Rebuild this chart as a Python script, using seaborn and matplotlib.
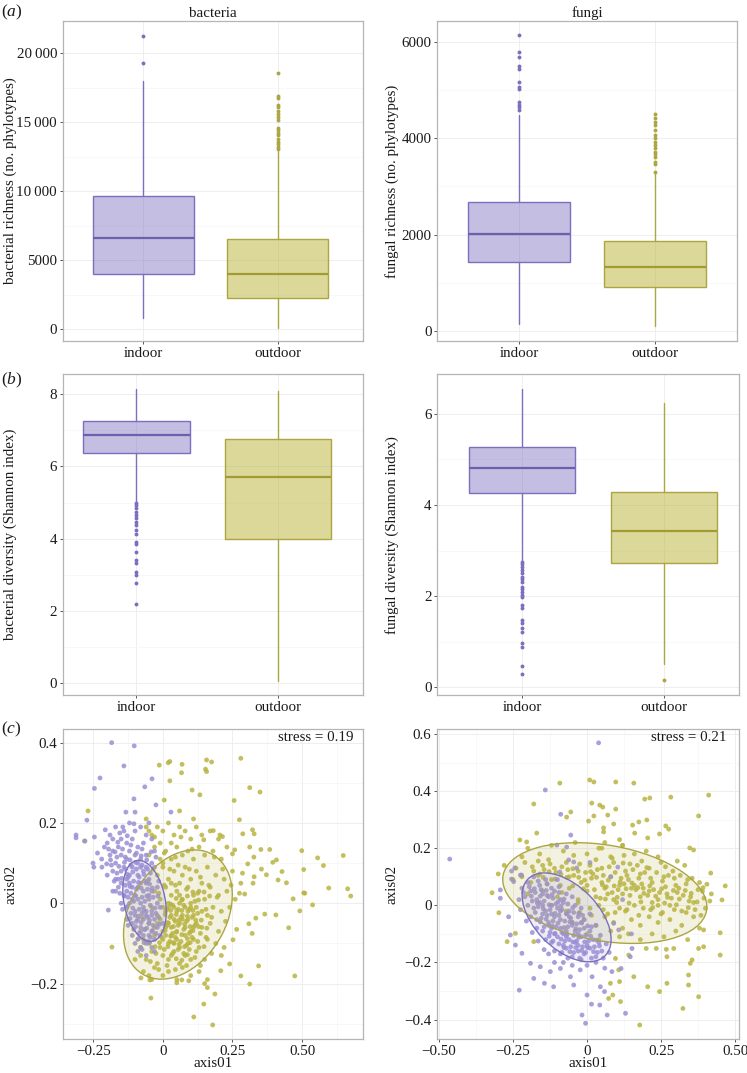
import numpy as np
import pandas as pd
import matplotlib
matplotlib.use('Agg')
import matplotlib.pyplot as plt
import seaborn as sns
from matplotlib.colors import to_rgba
from matplotlib.patches import Ellipse
from matplotlib.ticker import FixedLocator

sites = ['indoor', 'outdoor']

# box summaries: q1, median, q3, lower whisker, upper whisker
bac_rich_indoor = [3990, 6630, 9670, 820, 17990]
bac_rich_outdoor = [2230, 3970, 6500, 100, 12900]
bac_rich_indoor_fliers = [19300, 21280]
bac_rich_outdoor_fliers = [13060, 13230, 13420, 13590, 13760, 14080, 14240, 14440, 14560,
                           15160, 15410, 15600, 15820, 16130, 16250, 16780, 16900, 18550]

fun_rich_indoor = [1440, 2005, 2670, 145, 4480]
fun_rich_outdoor = [906, 1320, 1860, 104, 3270]
fun_rich_indoor_fliers = [4580, 4640, 4680, 4760, 5030, 5070, 5170, 5430, 5500, 5680, 5780, 6150]
fun_rich_outdoor_fliers = [3300, 3460, 3500, 3620, 3670, 3720, 3790, 3860, 3930, 4000, 4060,
                           4170, 4270, 4340, 4410, 4510]

bac_div_indoor = [6.37, 6.87, 7.27, 5.03, 8.14]
bac_div_outdoor = [3.99, 5.72, 6.77, 0.07, 8.10]
bac_div_indoor_fliers = [4.98, 4.93, 4.84, 4.75, 4.66, 4.57, 4.47, 4.38, 4.24, 4.13, 3.92, 3.85,
                         3.64, 3.41, 3.34, 3.09, 3.00, 2.77, 2.21]
bac_div_outdoor_fliers = []

fun_div_indoor = [4.27, 4.82, 5.28, 2.78, 6.54]
fun_div_outdoor = [2.72, 3.44, 4.28, 0.51, 6.24]
fun_div_indoor_fliers = [2.76, 2.71, 2.65, 2.58, 2.51, 2.43, 2.37, 2.32, 2.21, 2.15, 2.10, 2.03,
                         1.98, 1.81, 1.73, 1.48, 1.42, 1.30, 1.22, 0.98, 0.89, 0.47, 0.29]
fun_div_outdoor_fliers = [0.15]

# NMDS site scores
bac_nmds_indoor = [
    (-0.184, 0.400), (-0.103, 0.392), (-0.140, 0.342), (-0.226, 0.312), (-0.246, 0.286),
    (-0.039, 0.310), (-0.065, 0.290), (-0.104, 0.260), (-0.025, 0.245), (-0.133, 0.227),
    (-0.100, 0.227), (0.029, 0.227), (-0.104, 0.198), (-0.207, 0.183), (-0.144, 0.190),
    (-0.246, 0.165), (-0.312, 0.170), (-0.312, 0.163), (-0.280, 0.155), (-0.273, 0.207),
    (-0.251, 0.100), (-0.248, 0.090), (-0.219, 0.090), (-0.196, -0.017), (-0.170, 0.060),
    (-0.180, 0.030),
    (-0.17, 0.19), (-0.14, 0.18), (-0.12, 0.20), (-0.10, 0.18), (-0.08, 0.19), (-0.06, 0.17),
    (-0.19, 0.17), (-0.05, 0.20), (-0.20, 0.15), (-0.18, 0.16), (-0.16, 0.14), (-0.13, 0.15),
    (-0.11, 0.16), (-0.09, 0.14), (-0.07, 0.15), (-0.04, 0.16), (-0.15, 0.16), (-0.21, 0.14),
    (-0.22, 0.11), (-0.19, 0.12), (-0.17, 0.10), (-0.15, 0.12), (-0.13, 0.11), (-0.12, 0.13),
    (-0.10, 0.12), (-0.08, 0.11), (-0.06, 0.12), (-0.04, 0.10), (-0.03, 0.13), (-0.18, 0.13),
    (-0.09, 0.10), (-0.20, 0.07), (-0.18, 0.08), (-0.16, 0.06), (-0.14, 0.09), (-0.12, 0.07),
    (-0.11, 0.09), (-0.09, 0.07), (-0.07, 0.08), (-0.05, 0.06), (-0.03, 0.09), (-0.15, 0.08),
    (-0.13, 0.06), (-0.08, 0.09), (-0.06, 0.09), (-0.17, 0.03), (-0.15, 0.05), (-0.13, 0.03),
    (-0.12, 0.05), (-0.10, 0.02), (-0.09, 0.04), (-0.07, 0.03), (-0.06, 0.05), (-0.04, 0.03),
    (-0.02, 0.04), (-0.11, 0.04), (-0.08, 0.05), (-0.14, 0.02), (-0.05, 0.02), (-0.16, 0.04),
    (-0.15, 0.00), (-0.13, -0.01), (-0.11, 0.01), (-0.10, -0.02), (-0.08, 0.00), (-0.07, -0.01),
    (-0.05, 0.01), (-0.04, -0.02), (-0.02, 0.00), (-0.12, 0.00), (-0.09, 0.01), (-0.06, -0.02),
    (-0.01, -0.01), (-0.13, -0.04), (-0.11, -0.05), (-0.10, -0.03), (-0.08, -0.06), (-0.07, -0.04),
    (-0.05, -0.05), (-0.04, -0.03), (-0.02, -0.06), (-0.09, -0.04), (-0.06, -0.03), (-0.03, -0.04),
    (0.00, -0.05), (-0.11, -0.08), (-0.09, -0.09), (-0.07, -0.08), (-0.06, -0.10), (-0.04, -0.07),
    (-0.03, -0.09), (-0.08, -0.07), (-0.05, -0.08), (-0.10, -0.10), (-0.01, -0.08), (-0.09, -0.12),
    (-0.06, -0.13), (-0.04, -0.11), (-0.08, -0.11), (-0.03, -0.12),
    (-0.135, 0.085), (-0.115, 0.095), (-0.095, 0.085), (-0.075, 0.095), (-0.055, 0.085),
    (-0.125, 0.065), (-0.105, 0.055), (-0.085, 0.065), (-0.065, 0.055), (-0.045, 0.075),
    (-0.135, 0.045), (-0.115, 0.025), (-0.095, 0.035), (-0.075, 0.015), (-0.055, 0.035),
    (-0.035, 0.015), (-0.125, 0.015), (-0.105, 0.005), (-0.085, -0.015), (-0.065, 0.005),
    (-0.045, -0.005), (-0.025, -0.025), (-0.115, -0.025), (-0.095, -0.045), (-0.075, -0.025),
    (-0.055, -0.035), (-0.035, -0.055), (-0.015, -0.035), (-0.105, -0.065), (-0.085, -0.075),
    (-0.065, -0.065), (-0.045, -0.085), (-0.025, -0.075), (-0.075, -0.115), (-0.055, -0.095),
    (-0.165, 0.115), (-0.145, 0.135), (-0.185, 0.095), (-0.165, 0.075), (-0.195, 0.135),
    (-0.155, 0.175), (-0.115, 0.145), (-0.075, 0.135), (-0.135, 0.115), (-0.095, 0.125),
    (-0.235, 0.125), (-0.145, -0.015), (-0.125, -0.055), (-0.155, 0.025), (-0.015, 0.055),
    (-0.025, 0.115), (-0.175, 0.055),
    (-0.128, 0.072), (-0.108, 0.078), (-0.088, 0.052), (-0.068, 0.072), (-0.048, 0.048),
    (-0.118, 0.042), (-0.098, 0.018), (-0.078, 0.038), (-0.058, 0.018), (-0.038, 0.038),
    (-0.128, -0.008), (-0.108, -0.012), (-0.088, -0.032), (-0.068, -0.018), (-0.048, -0.042),
    (-0.028, -0.012), (-0.098, -0.058), (-0.078, -0.048), (-0.058, -0.062), (-0.038, -0.068),
    (-0.088, -0.088), (-0.068, -0.098), (-0.048, -0.098), (-0.118, 0.108), (-0.098, 0.102),
    (-0.078, 0.118), (-0.138, 0.102), (-0.158, 0.092), (-0.148, 0.062), (-0.138, 0.018),
    (-0.018, 0.018), (-0.012, -0.052), (-0.118, -0.038), (-0.058, 0.108), (-0.042, 0.128),
    (-0.172, 0.128), (-0.188, 0.108), (-0.202, 0.098), (-0.162, 0.152), (-0.128, 0.168),
]
bac_nmds_outdoor = [
    (-0.269, 0.230), (-0.282, 0.155), (0.019, 0.350), (0.025, 0.353), (0.069, 0.346), (-0.013, 0.344),
    (0.157, 0.357), (0.175, 0.352), (0.153, 0.334), (0.157, 0.328), (0.280, 0.361), (0.312, 0.288),
    (0.349, 0.277), (0.256, 0.256), (0.133, 0.270), (0.105, 0.282), (0.025, 0.305), (0.005, 0.257),
    (0.067, 0.325), (0.275, 0.208), (0.287, 0.173), (0.322, 0.183), (0.328, 0.173), (0.384, 0.134),
    (0.352, 0.134), (0.312, 0.140), (0.499, 0.131), (0.556, 0.113), (0.648, 0.119), (0.577, 0.094),
    (0.506, 0.084), (0.395, 0.102), (0.408, 0.108), (0.327, 0.115), (0.305, 0.098), (0.428, 0.079),
    (0.414, 0.058), (0.444, 0.051), (0.510, 0.025), (0.596, 0.038), (0.664, 0.036), (0.675, 0.018),
    (0.468, 0.011), (0.538, -0.004), (0.492, -0.019), (0.506, 0.026), (0.406, -0.029), (0.366, -0.027),
    (0.334, -0.037), (0.309, -0.051), (0.452, -0.061), (0.474, -0.181), (0.344, -0.156), (0.312, -0.201),
    (0.280, -0.181), (0.240, -0.151), (0.208, -0.168), (0.187, -0.226), (0.179, -0.303), (0.147, -0.251),
    (0.111, -0.283), (-0.043, -0.236), (0.321, -0.075), (0.252, -0.091), (0.294, 0.023), (0.324, 0.050),
    (0.328, 0.066), (0.286, 0.075), (0.372, 0.071), (0.354, 0.085), (0.258, 0.133), (0.250, 0.123),
    (0.205, 0.170), (0.181, 0.181), (0.214, 0.166), (0.147, 0.158), (-0.183, -0.109), (-0.050, 0.180),
    (-0.030, 0.165), (-0.060, 0.210), (0.060, 0.230), (0.110, 0.210), (0.220, -0.110), (0.210, -0.130),
    (0.150, -0.200), (0.160, -0.210), (0.050, -0.198), (0.068, -0.191), (0.093, -0.193), (-0.079, -0.186),
    (-0.047, -0.191),
    (-0.06, 0.19), (-0.04, 0.17), (-0.02, 0.19), (0.00, 0.18), (0.02, 0.20), (0.04, 0.17), (0.06, 0.19),
    (0.08, 0.18), (0.10, 0.16), (0.12, 0.19), (0.14, 0.17), (0.17, 0.18), (0.20, 0.16), (-0.01, 0.15),
    (0.03, 0.15), (-0.05, 0.12), (-0.03, 0.14), (-0.01, 0.11), (0.01, 0.13), (0.03, 0.11), (0.05, 0.14),
    (0.07, 0.12), (0.09, 0.13), (0.11, 0.11), (0.13, 0.14), (0.15, 0.12), (0.18, 0.13), (0.21, 0.11),
    (0.23, 0.14), (0.00, 0.10), (-0.02, 0.07), (0.00, 0.09), (0.02, 0.06), (0.04, 0.08), (0.06, 0.05),
    (0.08, 0.09), (0.10, 0.06), (0.12, 0.08), (0.14, 0.05), (0.16, 0.09), (0.19, 0.07), (0.22, 0.06),
    (0.25, 0.08), (0.28, 0.05), (0.03, 0.05), (0.07, 0.07), (-0.03, 0.03), (-0.01, 0.01), (0.01, 0.04),
    (0.03, 0.02), (0.05, 0.03), (0.07, 0.01), (0.09, 0.04), (0.11, 0.02), (0.13, 0.03), (0.15, 0.01),
    (0.17, 0.04), (0.20, 0.02), (0.23, 0.03), (0.26, 0.01), (0.02, 0.00), (0.06, 0.02), (0.10, 0.00),
    (-0.04, -0.01), (-0.02, -0.03), (0.00, -0.01), (0.01, -0.02), (0.03, -0.03), (0.04, -0.01),
    (0.05, -0.02), (0.07, -0.03), (0.08, -0.01), (0.09, -0.02), (0.11, -0.03), (0.12, -0.01),
    (0.14, -0.02), (0.16, -0.03), (0.18, -0.01), (0.21, -0.02), (0.24, -0.01), (0.02, -0.01),
    (0.06, 0.00), (0.10, -0.01), (-0.05, -0.05), (-0.03, -0.06), (-0.01, -0.04), (0.00, -0.07),
    (0.02, -0.05), (0.03, -0.06), (0.04, -0.04), (0.05, -0.07), (0.06, -0.05), (0.08, -0.06),
    (0.09, -0.04), (0.10, -0.07), (0.12, -0.05), (0.14, -0.06), (0.17, -0.05), (0.20, -0.07),
    (0.01, -0.06), (0.07, -0.04), (0.11, -0.06), (-0.02, -0.05), (-0.07, -0.09), (-0.05, -0.10),
    (-0.03, -0.08), (-0.01, -0.11), (0.00, -0.09), (0.02, -0.10), (0.03, -0.08), (0.05, -0.09),
    (0.06, -0.11), (0.08, -0.08), (0.09, -0.10), (0.11, -0.09), (0.13, -0.11), (0.16, -0.09),
    (0.19, -0.10), (0.04, -0.10), (-0.08, -0.11), (0.01, -0.08), (-0.08, -0.13), (-0.06, -0.14),
    (-0.04, -0.12), (-0.02, -0.15), (0.00, -0.13), (0.02, -0.14), (0.04, -0.12), (0.06, -0.15),
    (0.08, -0.13), (0.10, -0.14), (0.12, -0.12), (0.15, -0.14), (-0.10, -0.14), (0.03, -0.13),
    (-0.07, -0.17), (-0.05, -0.18), (-0.03, -0.16), (0.00, -0.18), (0.02, -0.17), (0.05, -0.19),
    (0.07, -0.16), (0.10, -0.18), (0.13, -0.17), (-0.04, -0.19), (0.16, -0.19),
    (0.015, -0.015), (0.035, -0.005), (0.055, -0.015), (0.075, -0.005), (0.095, -0.015),
    (0.115, 0.005), (0.025, -0.035), (0.045, -0.045), (0.065, -0.035), (0.085, -0.045),
    (0.105, -0.035), (0.125, -0.025), (0.015, -0.055), (0.035, -0.075), (0.055, -0.055),
    (0.075, -0.065), (0.095, -0.075), (0.115, -0.055), (0.135, -0.075), (-0.005, -0.085),
    (0.025, -0.095), (0.045, -0.085), (0.065, -0.095), (0.085, -0.105), (0.105, -0.085),
    (0.125, -0.095), (0.005, -0.115), (0.035, -0.125), (0.055, -0.115), (0.075, -0.125),
    (0.095, -0.115), (0.115, -0.135), (-0.025, -0.125), (-0.045, -0.145), (-0.015, -0.165),
    (0.015, -0.155), (0.045, -0.165), (0.085, -0.155), (0.135, -0.155), (0.175, -0.125),
    (0.155, -0.085), (0.175, -0.035), (0.195, 0.015), (0.165, 0.045), (0.135, 0.065),
    (0.095, 0.085), (0.055, 0.095), (0.025, 0.085), (0.005, 0.045), (-0.015, 0.025),
    (0.045, 0.045), (0.085, 0.035), (0.125, 0.025), (0.155, -0.015), (0.225, -0.045),
    (0.245, 0.045), (0.215, 0.085), (0.185, 0.115), (0.065, 0.165), (0.105, 0.135),
    (-0.035, 0.085), (-0.055, 0.055), (0.005, 0.125), (0.045, 0.115), (-0.065, -0.065),
    (-0.075, -0.035), (0.265, -0.065), (0.275, 0.025),
    (0.008, -0.028), (0.028, -0.018), (0.048, -0.028), (0.068, -0.018), (0.088, -0.032),
    (0.108, -0.018), (0.018, -0.048), (0.038, -0.058), (0.058, -0.042), (0.078, -0.052),
    (0.098, -0.058), (0.118, -0.042), (0.008, -0.068), (0.028, -0.082), (0.048, -0.072),
    (0.068, -0.078), (0.088, -0.088), (0.108, -0.068), (0.128, -0.058), (0.018, -0.108),
    (0.038, -0.098), (0.058, -0.102), (0.078, -0.108), (0.098, -0.098), (-0.012, -0.098),
    (-0.028, -0.108), (0.048, -0.138), (0.068, -0.142), (0.088, -0.128), (0.028, -0.002),
    (0.048, 0.012), (0.068, 0.008), (0.088, 0.018), (0.108, 0.028), (0.128, 0.008),
    (0.148, 0.028), (0.168, 0.018), (0.138, -0.042), (0.158, -0.062), (0.148, -0.108),
]
fun_nmds_indoor = [
    (0.039, 0.569), (-0.141, 0.404), (-0.089, 0.319), (-0.055, 0.246), (-0.464, 0.162), (0.104, 0.134),
    (-0.229, -0.297), (-0.180, -0.256), (-0.144, -0.273), (-0.113, -0.285), (-0.056, -0.250),
    (-0.045, -0.279), (-0.017, -0.384), (-0.005, -0.413), (0.000, -0.314), (0.015, -0.346),
    (0.043, -0.349), (0.068, -0.384), (0.130, -0.378), (0.045, -0.285), (0.059, -0.302), (0.084, -0.232),
    (0.115, -0.221), (0.017, -0.250), (-0.023, -0.226), (-0.090, -0.221), (-0.124, -0.232),
    (-0.158, -0.215), (-0.191, -0.203), (-0.220, -0.168), (-0.242, -0.139), (-0.259, -0.104),
    (-0.265, -0.040), (-0.293, 0.025), (-0.293, 0.054), (-0.248, 0.083), (-0.225, 0.106), (0.152, -0.151),
    (0.146, -0.180), (0.107, -0.086), (0.090, -0.063), (-0.102, 0.211), (-0.069, 0.204), (-0.062, 0.159),
    (-0.045, 0.152), (-0.035, 0.131), (-0.092, 0.117), (-0.255, 0.120), (-0.244, 0.131), (-0.221, 0.106),
    (-0.255, 0.092), (0.010, 0.150), (0.080, 0.100), (0.120, 0.020), (0.150, -0.100),
    (-0.20, 0.08), (-0.18, 0.10), (-0.16, 0.07), (-0.14, 0.09), (-0.12, 0.06), (-0.22, 0.06), (-0.10, 0.09),
    (-0.21, 0.03), (-0.19, 0.05), (-0.17, 0.02), (-0.15, 0.04), (-0.13, 0.03), (-0.11, 0.05), (-0.09, 0.02),
    (-0.07, 0.04), (-0.23, 0.02), (-0.05, 0.03), (-0.20, 0.00), (-0.18, -0.01), (-0.16, 0.01),
    (-0.14, -0.02), (-0.12, 0.00), (-0.10, -0.01), (-0.08, 0.01), (-0.06, -0.02), (-0.04, 0.00),
    (-0.02, -0.01), (-0.15, 0.00), (-0.09, -0.02), (-0.19, -0.04), (-0.17, -0.05), (-0.15, -0.03),
    (-0.13, -0.06), (-0.11, -0.04), (-0.09, -0.05), (-0.07, -0.03), (-0.05, -0.06), (-0.03, -0.04),
    (-0.01, -0.05), (0.01, -0.03), (-0.12, -0.03), (-0.06, -0.04), (-0.02, -0.06), (-0.17, -0.08),
    (-0.15, -0.09), (-0.13, -0.07), (-0.11, -0.10), (-0.09, -0.08), (-0.07, -0.09), (-0.05, -0.07),
    (-0.03, -0.10), (-0.01, -0.08), (0.01, -0.09), (0.03, -0.07), (-0.08, -0.10), (-0.04, -0.09),
    (-0.12, -0.08), (-0.14, -0.12), (-0.12, -0.13), (-0.10, -0.11), (-0.08, -0.14), (-0.06, -0.12),
    (-0.04, -0.13), (-0.02, -0.11), (0.00, -0.14), (0.02, -0.12), (0.04, -0.13), (-0.07, -0.11),
    (-0.03, -0.14), (-0.11, -0.16), (-0.09, -0.17), (-0.07, -0.15), (-0.05, -0.18), (-0.03, -0.16),
    (-0.01, -0.17), (0.01, -0.15), (0.03, -0.18), (0.05, -0.16), (-0.13, -0.17), (-0.08, -0.20),
    (-0.05, -0.21), (-0.02, -0.19), (0.00, -0.21), (0.03, -0.20), (0.06, -0.22), (-0.11, -0.20),
    (-0.195, 0.065), (-0.175, 0.045), (-0.155, 0.055), (-0.135, 0.035), (-0.115, 0.025),
    (-0.095, 0.045), (-0.185, 0.015), (-0.165, -0.005), (-0.145, 0.015), (-0.125, -0.015),
    (-0.105, 0.005), (-0.085, -0.015), (-0.065, 0.005), (-0.045, -0.025), (-0.175, -0.025),
    (-0.155, -0.045), (-0.135, -0.035), (-0.115, -0.055), (-0.095, -0.035), (-0.075, -0.055),
    (-0.055, -0.045), (-0.035, -0.065), (-0.015, -0.035), (-0.145, -0.075), (-0.125, -0.095),
    (-0.105, -0.075), (-0.085, -0.095), (-0.065, -0.075), (-0.045, -0.105), (-0.025, -0.085),
    (-0.005, -0.105), (0.015, -0.075), (-0.115, -0.125), (-0.095, -0.135), (-0.075, -0.125),
    (-0.055, -0.145), (-0.035, -0.125), (-0.015, -0.145), (0.005, -0.125), (0.025, -0.145),
    (0.045, -0.105), (-0.085, -0.165), (-0.065, -0.185), (-0.045, -0.165), (-0.025, -0.185),
    (-0.005, -0.165), (0.015, -0.185), (0.035, -0.165), (0.055, -0.185), (-0.165, 0.085),
    (-0.135, 0.075), (-0.215, 0.045), (-0.225, -0.015), (-0.205, -0.055), (-0.185, -0.095),
    (-0.165, -0.125), (-0.145, -0.155), (0.065, -0.135), (0.075, -0.165), (-0.095, 0.065),
    (-0.178, 0.058), (-0.158, 0.032), (-0.138, 0.052), (-0.118, 0.038), (-0.098, 0.012),
    (-0.078, 0.022), (-0.168, 0.008), (-0.148, -0.012), (-0.128, 0.002), (-0.108, -0.028),
    (-0.088, -0.002), (-0.068, -0.028), (-0.048, -0.008), (-0.028, -0.028), (-0.158, -0.058),
    (-0.138, -0.048), (-0.118, -0.072), (-0.098, -0.062), (-0.078, -0.078), (-0.058, -0.058),
    (-0.038, -0.082), (-0.018, -0.062), (0.002, -0.072), (-0.128, -0.108), (-0.108, -0.098),
    (-0.088, -0.118), (-0.068, -0.102), (-0.048, -0.128), (-0.028, -0.112), (-0.008, -0.128),
    (0.012, -0.108), (0.032, -0.122), (-0.078, -0.148), (-0.058, -0.162), (-0.038, -0.148),
    (-0.018, -0.158), (0.002, -0.148), (0.022, -0.162), (0.042, -0.142), (-0.188, 0.032),
]
fun_nmds_outdoor = [
    (0.009, 0.439), (0.023, 0.432), (-0.092, 0.428), (0.097, 0.432), (0.158, 0.428), (-0.180, 0.355),
    (-0.170, 0.253), (-0.227, 0.229), (-0.204, 0.222), (-0.069, 0.309), (-0.055, 0.327), (0.411, 0.386),
    (0.283, 0.379), (0.195, 0.372), (0.212, 0.376), (0.377, 0.313), (0.016, 0.358), (0.043, 0.351),
    (0.053, 0.344), (0.097, 0.337), (0.070, 0.316), (0.023, 0.313), (0.005, 0.295), (0.056, 0.271),
    (0.056, 0.257), (0.090, 0.285), (0.154, 0.281), (0.175, 0.292), (0.202, 0.299), (0.161, 0.253),
    (0.205, 0.236), (0.266, 0.278), (0.276, 0.267), (0.245, 0.250), (0.347, 0.201), (0.360, 0.194),
    (0.418, 0.113), (0.110, 0.230), (0.120, 0.210), (0.060, 0.220), (0.050, 0.200), (-0.321, 0.044),
    (-0.298, -0.026), (-0.270, -0.127), (0.467, 0.068), (0.456, 0.019), (0.405, 0.074), (0.450, -0.096),
    (0.450, -0.174), (0.394, -0.086), (0.394, -0.145), (0.377, -0.151), (0.355, -0.191), (0.349, -0.203),
    (0.343, -0.244), (0.343, -0.279), (0.324, -0.361), (0.377, -0.320), (0.270, -0.273), (0.245, -0.302),
    (0.205, -0.285), (0.178, -0.419), (0.158, -0.250), (0.141, -0.174), (0.200, -0.151), (0.234, -0.151),
    (0.268, -0.154), (0.293, -0.151), (0.270, -0.180), (0.107, -0.226), (0.096, -0.186), (0.110, -0.267),
    (0.087, -0.314), (0.073, -0.326), (0.079, -0.273), (0.113, -0.337), (-0.180, -0.127), (-0.242, -0.098),
    (-0.300, 0.110), (-0.280, 0.140),
    (-0.20, 0.20), (-0.16, 0.18), (-0.12, 0.21), (-0.08, 0.19), (-0.04, 0.22), (0.00, 0.18), (0.04, 0.20),
    (0.08, 0.17), (0.12, 0.21), (0.16, 0.18), (0.20, 0.19), (0.24, 0.17), (-0.22, 0.17), (-0.24, 0.13),
    (-0.21, 0.15), (-0.18, 0.12), (-0.15, 0.14), (-0.11, 0.13), (-0.07, 0.15), (-0.03, 0.12), (0.01, 0.14),
    (0.05, 0.13), (0.09, 0.15), (0.13, 0.12), (0.17, 0.14), (0.21, 0.13), (0.25, 0.15), (0.29, 0.12),
    (0.33, 0.14), (-0.13, 0.16), (0.03, 0.16), (-0.25, 0.09), (-0.22, 0.10), (-0.19, 0.08), (-0.16, 0.11),
    (-0.12, 0.09), (-0.09, 0.07), (-0.06, 0.10), (-0.02, 0.08), (0.02, 0.11), (0.05, 0.08), (0.08, 0.10),
    (0.11, 0.07), (0.14, 0.09), (0.18, 0.11), (0.22, 0.08), (0.26, 0.10), (0.30, 0.07), (0.34, 0.09),
    (0.38, 0.08), (0.00, 0.07), (0.16, 0.07), (-0.20, 0.04), (-0.15, 0.05), (-0.10, 0.03), (-0.06, 0.06),
    (-0.03, 0.02), (0.00, 0.05), (0.03, 0.03), (0.06, 0.06), (0.09, 0.02), (0.12, 0.04), (0.15, 0.06),
    (0.18, 0.03), (0.21, 0.05), (0.24, 0.02), (0.27, 0.04), (0.31, 0.06), (0.35, 0.03), (0.39, 0.05),
    (0.42, 0.04), (0.07, 0.04), (0.19, 0.06), (-0.12, 0.00), (-0.07, -0.02), (-0.03, 0.01), (0.01, -0.01),
    (0.04, 0.00), (0.07, -0.03), (0.10, 0.01), (0.13, -0.02), (0.16, 0.00), (0.19, -0.01), (0.22, 0.01),
    (0.25, -0.03), (0.28, 0.00), (0.32, -0.02), (0.36, 0.01), (0.40, -0.01), (0.11, -0.01), (0.24, 0.00),
    (-0.05, -0.06), (-0.01, -0.05), (0.03, -0.07), (0.06, -0.04), (0.09, -0.06), (0.12, -0.08),
    (0.15, -0.05), (0.18, -0.07), (0.21, -0.04), (0.24, -0.06), (0.28, -0.05), (0.32, -0.07),
    (0.36, -0.04), (0.38, -0.08), (0.00, -0.10), (0.04, -0.12), (0.08, -0.09), (0.11, -0.11),
    (0.14, -0.10), (0.18, -0.12), (0.22, -0.10), (0.26, -0.11), (0.30, -0.09), (0.34, -0.12),
    (-0.185, 0.135), (-0.165, 0.105), (-0.145, 0.125), (-0.125, 0.145), (-0.105, 0.115),
    (-0.085, 0.135), (-0.065, 0.125), (-0.045, 0.105), (-0.025, 0.145), (-0.005, 0.115),
    (0.015, 0.095), (0.035, 0.125), (0.055, 0.105), (0.075, 0.135), (0.095, 0.115), (0.115, 0.095),
    (0.135, 0.105), (0.155, 0.125), (0.175, 0.095), (0.195, 0.115), (0.215, 0.095), (0.235, 0.115),
    (0.255, 0.085), (0.275, 0.105), (0.295, 0.095), (0.315, 0.105), (0.335, 0.075), (0.355, 0.095),
    (0.375, 0.055), (0.395, 0.025), (0.415, 0.015), (0.025, 0.055), (0.045, 0.025), (0.065, 0.065),
    (0.085, 0.045), (0.105, 0.055), (0.125, 0.075), (0.145, 0.035), (0.165, 0.055), (0.185, 0.075),
    (0.205, 0.035), (0.225, 0.055), (0.245, 0.045), (0.265, 0.065), (0.285, 0.025), (0.305, 0.045),
    (0.325, 0.035), (0.345, 0.015), (0.365, -0.015), (0.385, -0.035), (0.335, -0.025), (0.295, -0.015),
    (0.255, -0.025), (0.215, -0.015), (0.175, -0.035), (0.135, -0.015), (0.095, -0.025), (0.055, -0.015),
    (0.015, -0.035), (-0.025, -0.025), (0.085, 0.165), (0.125, 0.175), (-0.045, 0.175), (-0.165, 0.155),
    (0.185, 0.155), (0.145, 0.145), (0.265, 0.135), (0.305, 0.155), (-0.085, 0.045), (-0.135, 0.075),
    (-0.148, 0.098), (-0.128, 0.118), (-0.108, 0.092), (-0.088, 0.108), (-0.068, 0.098),
    (-0.048, 0.128), (-0.028, 0.098), (-0.008, 0.088), (0.012, 0.118), (0.032, 0.098),
    (0.052, 0.072), (0.072, 0.088), (0.092, 0.068), (0.112, 0.082), (0.132, 0.058),
    (0.152, 0.078), (0.172, 0.062), (0.192, 0.042), (0.212, 0.068), (0.232, 0.032),
    (0.252, 0.058), (0.272, 0.028), (0.292, 0.052), (0.312, 0.022), (0.332, 0.052),
    (0.352, 0.042), (0.372, 0.012), (0.392, 0.062), (0.182, 0.012), (0.222, -0.008),
    (0.262, 0.008), (0.302, 0.002), (0.342, -0.008), (0.142, 0.008), (0.102, 0.028),
    (0.062, 0.022), (-0.012, 0.058), (-0.048, 0.068), (0.122, 0.148), (0.202, 0.132),
]

# ellipse shape per group: centre x, centre y, var x, var y, cov xy
bac_ell_indoor = [-0.066, 0.006, 0.0061, 0.0102, -0.0021]
bac_ell_outdoor = [0.054, -0.028, 0.0382, 0.0259, 0.0096]
fun_ell_indoor = [-0.069, -0.042, 0.0226, 0.0242, -0.0116]
fun_ell_outdoor = [0.060, 0.043, 0.119, 0.0311, -0.0165]

bac_stress = 0.19
fun_stress = 0.21

# colours
line_col = {'indoor': '#7a70bd', 'outdoor': '#aca642'}
fill_col = {'indoor': to_rgba('#7b6fc0', 0.45), 'outdoor': to_rgba('#bbb336', 0.5)}
med_col = {'indoor': '#6a60ad', 'outdoor': '#a29b33'}
pt_col = {'indoor': '#9a8fd4', 'outdoor': '#b9b443'}

sns.set_theme(style='white')
plt.rcParams['font.family'] = ['Liberation Serif', 'DejaVu Serif']
plt.rcParams['mathtext.fontset'] = 'custom'
plt.rcParams['mathtext.it'] = 'Liberation Serif:italic'
plt.rcParams['mathtext.rm'] = 'Liberation Serif'

FS = 10.8
TXT = '#1a1a1a'

fig = plt.figure(figsize=(7.47, 10.73), dpi=100)
W, H = 747, 1073


def add_ax(x0, x1, y0, y1):
    return fig.add_axes([x0 / W, 1 - y1 / H, (x1 - x0) / W, (y1 - y0) / H])


def style_axes(ax, label_x):
    for sp in ax.spines.values():
        sp.set_color('#b5b5b5')
        sp.set_linewidth(0.9)
        sp.set_visible(True)
    ax.set_axisbelow(True)
    ax.grid(which='major', color='#ebebeb', lw=0.6)
    ax.grid(which='minor', color='#f5f5f5', lw=0.5)
    ax.tick_params(which='major', length=2.5, width=0.7, color='#555555', pad=1.6,
                   labelsize=FS, labelcolor=TXT, left=True, bottom=True)
    ax.tick_params(which='minor', length=0)
    ax.yaxis.set_label_coords(label_x, 0.5)


def box_panel(ax, s_in, s_out, f_in, f_out, ylim, yticks, ylabels, yminor, xlim, ylabel, label_x):
    stats = []
    for name, s, f in zip(sites, [s_in, s_out], [f_in, f_out]):
        stats.append(dict(label=name, q1=s[0], med=s[1], q3=s[2], whislo=s[3], whishi=s[4], fliers=f))
    parts = ax.bxp(stats, positions=[1, 2], widths=0.75, patch_artist=True, showcaps=False)
    for i, name in enumerate(sites):
        parts['boxes'][i].set(facecolor=fill_col[name], edgecolor=line_col[name], linewidth=1.0)
        parts['medians'][i].set(color=med_col[name], linewidth=1.6)
        for w in parts['whiskers'][2 * i:2 * i + 2]:
            w.set(color=line_col[name], linewidth=1.0)
        parts['fliers'][i].set(marker='o', markersize=2.8, markerfacecolor=line_col[name],
                               markeredgewidth=0)
    ax.set_xlim(*xlim)
    ax.set_ylim(*ylim)
    ax.set_xticks([1, 2])
    ax.set_xticklabels(sites)
    ax.set_yticks(yticks)
    ax.set_yticklabels(ylabels)
    ax.yaxis.set_minor_locator(FixedLocator(yminor))
    ax.set_ylabel(ylabel, fontsize=FS, color=TXT)
    style_axes(ax, label_x)


def draw_ellipse(ax, p, name):
    cov = np.array([[p[2], p[4]], [p[4], p[3]]])
    vals, vecs = np.linalg.eigh(cov)
    ang = np.degrees(np.arctan2(vecs[1, 1], vecs[0, 1]))
    ax.add_patch(Ellipse((p[0], p[1]), 2 * np.sqrt(vals[1]), 2 * np.sqrt(vals[0]), angle=ang,
                         facecolor=to_rgba(pt_col[name], 0.16), edgecolor=line_col[name],
                         linewidth=1.0, zorder=3))


def nmds_panel(ax, pts_in, pts_out, ell_in, ell_out, stress, xlim, ylim, xticks, xlabels,
               yticks, ylabels, xminor, yminor, label_x, stress_x):
    df = pd.concat([
        pd.DataFrame(pts_out, columns=['axis01', 'axis02']).assign(site='outdoor'),
        pd.DataFrame(pts_in, columns=['axis01', 'axis02']).assign(site='indoor'),
    ])
    sns.scatterplot(data=df, x='axis01', y='axis02', hue='site', palette=pt_col, s=12,
                    linewidth=0, alpha=0.85, legend=False, ax=ax, zorder=2)
    draw_ellipse(ax, ell_out, 'outdoor')
    draw_ellipse(ax, ell_in, 'indoor')
    ax.set_xlim(*xlim)
    ax.set_ylim(*ylim)
    ax.set_xticks(xticks)
    ax.set_xticklabels(xlabels)
    ax.set_yticks(yticks)
    ax.set_yticklabels(ylabels)
    ax.xaxis.set_minor_locator(FixedLocator(xminor))
    ax.yaxis.set_minor_locator(FixedLocator(yminor))
    ax.set_xlabel('axis01', fontsize=FS, color=TXT)
    ax.set_ylabel('axis02', fontsize=FS, color=TXT)
    ax.xaxis.set_label_coords(0.5, -0.058)
    style_axes(ax, label_x)
    ax.text(stress_x, 0.974, f'stress = {stress:.2f}', transform=ax.transAxes, ha='right',
            va='center', fontsize=FS, color=TXT)


# (a) richness
ax = add_ax(62.7, 362.7, 21, 341)
box_panel(ax, bac_rich_indoor, bac_rich_outdoor, bac_rich_indoor_fliers, bac_rich_outdoor_fliers,
          (-870, 22350), [0, 5000, 10000, 15000, 20000],
          ['0', '5000', '10\u2009000', '15\u2009000', '20\u2009000'], [2500, 7500, 12500, 17500],
          (0.4, 2.63), 'bacterial richness (no. phylotypes)', -0.152)
ax.set_title('bacteria', fontsize=FS, color=TXT, pad=3)

ax = add_ax(437.3, 736.7, 21, 341)
box_panel(ax, fun_rich_indoor, fun_rich_outdoor, fun_rich_indoor_fliers, fun_rich_outdoor_fliers,
          (-205, 6430), [0, 2000, 4000, 6000], ['0', '2000', '4000', '6000'], [1000, 3000, 5000],
          (0.4, 2.6), 'fungal richness (no. phylotypes)', -0.128)
ax.set_title('fungi', fontsize=FS, color=TXT, pad=3)

# (b) diversity
ax = add_ax(62.7, 363.3, 374.3, 695)
box_panel(ax, bac_div_indoor, bac_div_outdoor, bac_div_indoor_fliers, bac_div_outdoor_fliers,
          (-0.32, 8.55), [0, 2, 4, 6, 8], ['0', '2', '4', '6', '8'], [1, 3, 5, 7],
          (0.48, 2.6), 'bacterial diversity (Shannon index)', -0.152)

ax = add_ax(437.3, 739, 374.3, 695)
box_panel(ax, fun_div_indoor, fun_div_outdoor, fun_div_indoor_fliers, fun_div_outdoor_fliers,
          (-0.17, 6.87), [0, 2, 4, 6], ['0', '2', '4', '6'], [1, 3, 5],
          (0.4, 2.53), 'fungal diversity (Shannon index)', -0.128)

# (c) NMDS ordinations
ax = add_ax(62.7, 362.7, 729, 1039)
nmds_panel(ax, bac_nmds_indoor, bac_nmds_outdoor, bac_ell_indoor, bac_ell_outdoor, bac_stress,
           (-0.36, 0.718), (-0.338, 0.434), [-0.25, 0, 0.25, 0.5], ['\u22120.25', '0', '0.25', '0.50'],
           [-0.2, 0, 0.2, 0.4], ['\u22120.2', '0', '0.2', '0.4'], [-0.125, 0.125, 0.375, 0.625],
           [-0.3, -0.1, 0.1, 0.3], -0.152, 0.971)

ax = add_ax(437.3, 739, 729, 1039)
nmds_panel(ax, fun_nmds_indoor, fun_nmds_outdoor, fun_ell_indoor, fun_ell_outdoor, fun_stress,
           (-0.506, 0.5135), (-0.468, 0.6175), [-0.5, -0.25, 0, 0.25, 0.5],
           ['\u22120.50', '\u22120.25', '0', '0.25', '0.50'],
           [-0.4, -0.2, 0, 0.2, 0.4, 0.6], ['\u22120.4', '\u22120.2', '0', '0.2', '0.4', '0.6'],
           [-0.375, -0.125, 0.125, 0.375], [-0.3, -0.1, 0.1, 0.3, 0.5], -0.13, 0.960)

# panel letters
for letter, ypx in [('a', 12), ('b', 380), ('c', 729)]:
    fig.text(0.001, 1 - ypx / H, f'($\\mathit{{{letter}}}$)', fontsize=12.5, color=TXT,
             ha='left', va='center')

fig.savefig('out.png', dpi=100)
